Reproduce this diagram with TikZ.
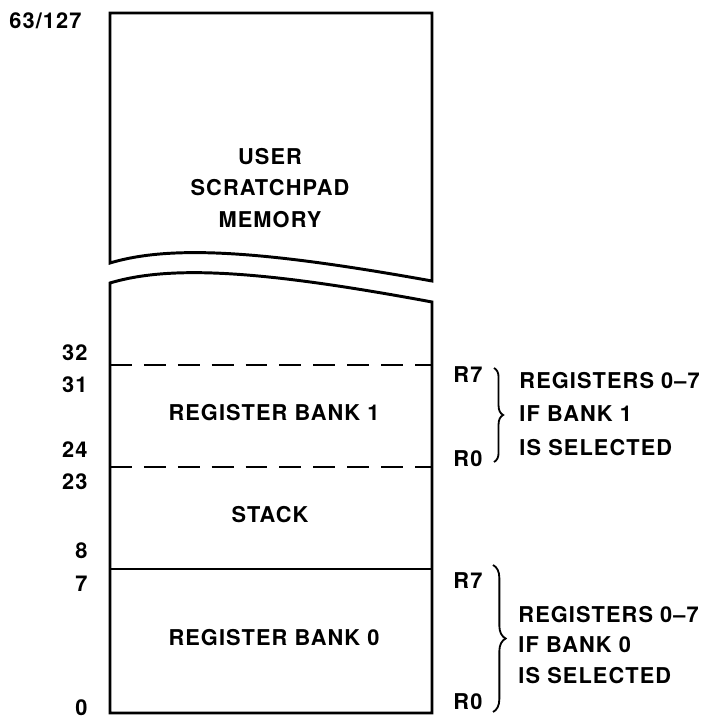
\documentclass[tikz,border=0pt]{standalone}
\usepackage{fontspec}
\setmainfont{TeX Gyre Heros}[LetterSpace=5]
\usetikzlibrary{decorations.pathreplacing}

\tikzset{
  lbl/.style={font=\bfseries\fontsize{15.5}{18}\selectfont, inner sep=0pt},
  addr/.style={lbl, anchor=east},
  reg/.style={lbl, anchor=west},
  note/.style={lbl, anchor=west, align=left},
  bank/.style={decorate, decoration={brace, amplitude=#1}, line width=1.3pt},
}

\begin{document}
\begin{tikzpicture}[x=0.025cm, y=-0.025cm, line width=2.1pt]
    \useasboundingbox (0,0) rectangle (708,721);
    % upper part, cut off by the break
    \draw[line join=miter] (110,263) -- (110,13) -- (432,13) -- (432,281)
        .. controls (260,250) and (170,245) .. cycle;
    % lower part
    \draw[line join=miter] (110,283) .. controls (170,265) and (260,270) .. (432,302)
        -- (432,713) -- (110,713) -- cycle;
    \draw[line width=1.6pt, dash pattern=on 15.6pt off 8.5pt] (110,365) -- (432,365);
    \draw[line width=1.6pt, dash pattern=on 15.6pt off 8.5pt] (110,467) -- (432,467);
    \draw (110,569) -- (432,569);
    %
    \node[lbl, align=center, font=\bfseries\fontsize{15.5}{22.3}\selectfont] (user) at (270,188) {USER\\SCRATCHPAD\\MEMORY};
    \node[lbl] (bank1) at (274,413) {REGISTER BANK 1};
    \node[lbl] (stack) at (270,515) {STACK};
    \node[lbl] (bank0) at (274,638) {REGISTER BANK 0};
    % addresses
    \node[addr] (top) at (83,21) {63/127};
    \foreach \y/\t in {353/32, 385/31, 450/24, 482/23, 551/8, 584/7, 708/0} {
      \node[addr] (a\t) at (89,\y) {\t};
    }
    % registers
    \node[reg] (r7a) at (452,375) {R7};
    \node[reg] (r0a) at (452,459) {R0};
    \node[reg] (r7b) at (452,581) {R7};
    \node[reg] (r0b) at (452,702) {R0};
    \coordinate (b1top) at (494,368);
    \coordinate (b1bot) at (494,462);
    \coordinate (b0top) at (493,565);
    \coordinate (b0bot) at (493,712);
    \draw[bank=6.5pt] (b1top) -- (b1bot);
    \draw[bank=9pt] (b0top) -- (b0bot);
    \node[note, font=\bfseries\fontsize{15.5}{23.7}\selectfont] (sel1) at (518,414) {REGISTERS 0--7\\IF BANK 1\\IS SELECTED};
    \node[note, font=\bfseries\fontsize{15.5}{22}\selectfont] (sel0) at (517,645) {REGISTERS 0--7\\IF BANK 0\\IS SELECTED};
\end{tikzpicture}
\end{document}
